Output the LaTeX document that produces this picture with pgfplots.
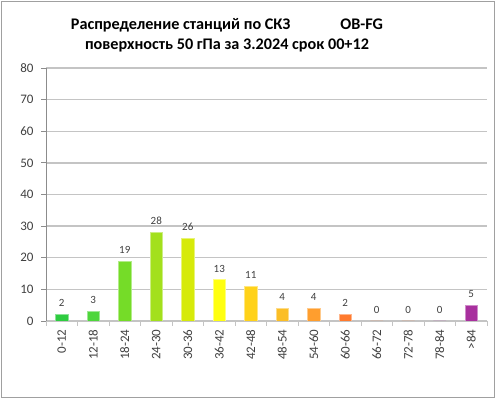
\documentclass[border=0pt]{standalone}
\usepackage{pgfplots}
\pgfplotsset{compat=1.18}
\usepackage{fontspec}
\setmainfont{Carlito}
\definecolor{cA}{HTML}{2ECC40}
\definecolor{cB}{HTML}{4ED63C}
\definecolor{cC}{HTML}{75DC28}
\definecolor{cD}{HTML}{A3E01C}
\definecolor{cE}{HTML}{D6EA0A}
\definecolor{cF}{HTML}{FFFF10}
\definecolor{cG}{HTML}{FFD21A}
\definecolor{cH}{HTML}{FBBE26}
\definecolor{cI}{HTML}{FF9E2E}
\definecolor{cJ}{HTML}{FF7A2E}
\definecolor{cK}{HTML}{A8309E}
\definecolor{txt}{HTML}{404040}
\definecolor{gridc}{HTML}{C4C4C4}
\definecolor{axc}{HTML}{8C8C8C}
\definecolor{framec}{HTML}{A0A0A0}
\begin{document}
\begin{tikzpicture}
\path (0bp,0bp) rectangle (496bp,399bp);
\draw[framec, line width=1bp] (1.5bp,1.5bp) rectangle (494.5bp,397.5bp);
\node[anchor=base, font=\bfseries\fontsize{16.2bp}{19bp}\selectfont] at (227bp,369bp) {Распределение станций по СКЗ\hspace{50bp}OB-FG};
\node[anchor=base, font=\bfseries\fontsize{16.2bp}{19bp}\selectfont] at (227bp,349bp) {поверхность 50 гПа за 3.2024 срок 00+12};
\begin{axis}[
  at={(46bp,78bp)}, anchor=south west,
  width=441bp, height=253bp, scale only axis,
  xmin=-0.5, xmax=13.5, ymin=0, ymax=80,
  ytick={0,10,...,80},
  ymajorgrids, grid style={gridc, line width=1.3bp},
  axis x line*=bottom, axis y line*=left,
  x axis line style={gridc, line width=1.3bp, -},
  y axis line style={axc, line width=0.8bp, -},
  xtick={0,...,13},
  xticklabels={0-12,12-18,18-24,24-30,30-36,36-42,42-48,48-54,54-60,60-66,66-72,72-78,78-84,>84},
  minor xtick={-0.5,0.5,...,13.5},
  tick align=outside,
  major x tick style={draw=none},
  minor x tick style={gridc, line width=1bp},
  minor tick length=5bp,
  major y tick style={axc, line width=0.8bp},
  major tick length=5bp,
  x tick label style={rotate=90, anchor=east, font=\fontsize{13bp}{15bp}\selectfont, color=txt},
  y tick label style={font=\fontsize{13bp}{15bp}\selectfont, color=txt, xshift=-4bp},
  /pgf/number format/assume math mode=true,
  nodes near coords,
  every node near coord/.append style={font=\fontsize{11bp}{13bp}\selectfont, color=txt, yshift=4bp},
  mybar/.style={ybar, bar width=0.4, bar shift=0pt, fill=#1, draw=#1!55!white, line width=0.8bp},
]
\addplot[mybar=cA] coordinates {(0,2)};
\addplot[mybar=cB] coordinates {(1,3)};
\addplot[mybar=cC] coordinates {(2,19)};
\addplot[mybar=cD] coordinates {(3,28)};
\addplot[mybar=cE] coordinates {(4,26)};
\addplot[mybar=cF] coordinates {(5,13)};
\addplot[mybar=cG] coordinates {(6,11)};
\addplot[mybar=cH] coordinates {(7,4)};
\addplot[mybar=cI] coordinates {(8,4)};
\addplot[mybar=cJ] coordinates {(9,2)};
\addplot[mybar=cJ] coordinates {(10,0)};
\addplot[mybar=cJ] coordinates {(11,0)};
\addplot[mybar=cK] coordinates {(12,0)};
\addplot[mybar=cK] coordinates {(13,5)};
\end{axis}
\end{tikzpicture}
\end{document}
